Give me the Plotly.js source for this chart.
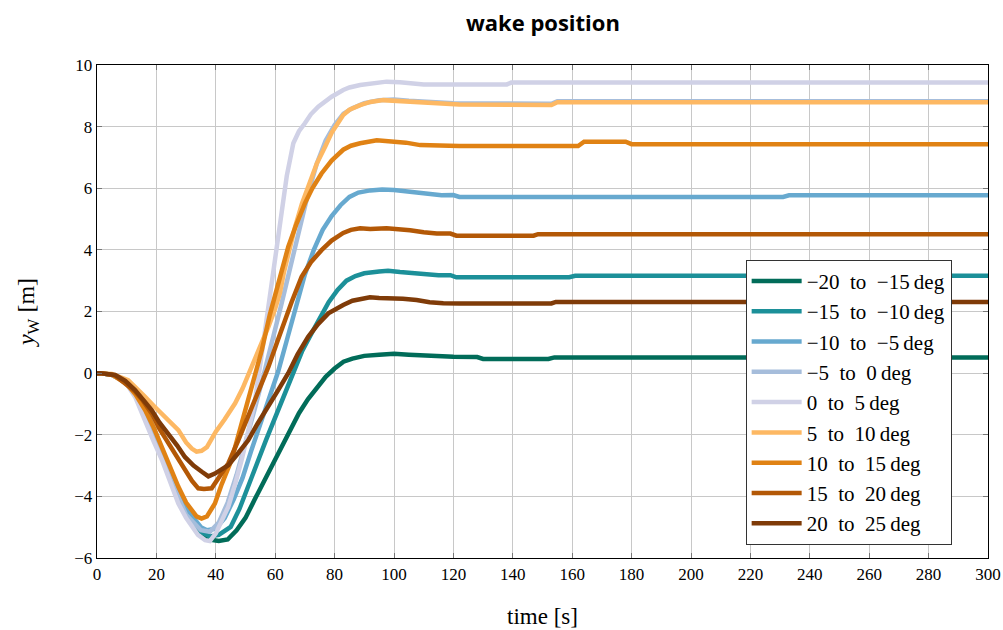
<!DOCTYPE html>
<html>
<head>
<meta charset="utf-8">
<script src="https://cdn.plot.ly/plotly-3.0.1.min.js"></script>
<style>html,body{margin:0;padding:0;background:#fff;}#chart{width:1003px;height:630px;}</style>
</head>
<body>
<div id="chart"></div>
<script>
// Series labels and colours
const labels = ["−20\u2002to\u2002−15\u2009deg","−15\u2002to\u2002−10\u2009deg","−10\u2002to\u2002−5\u2009deg","−5\u2002to\u20020\u2009deg","0\u2002to\u20025\u2009deg","5\u2002to\u200210\u2009deg","10\u2002to\u200215\u2009deg","15\u2002to\u200220\u2009deg","20\u2002to\u200225\u2009deg"];
const colors = ["#016c59","#1c9099","#67a9cf","#a6bddb","#d0d1e6","#fdb863","#e08214","#b35806","#7f3b08"];

// -20 to -15 deg
const t_m20 = [0,1,5,10,15,20,25,30,35,38,41,44,47,50,53,56,59,62,65,68,71,74,77,80,83,86,90,95,100,105,110,115,120,128,130,152,154,300];
const y_m20 = [0,0,-0.05,-0.3,-0.95,-2.1,-3.4,-4.5,-5.2,-5.4,-5.45,-5.4,-5.1,-4.7,-4.12,-3.55,-3.0,-2.4,-1.85,-1.3,-0.85,-0.5,-0.12,0.15,0.37,0.47,0.56,0.6,0.63,0.6,0.57,0.55,0.53,0.52,0.46,0.46,0.51,0.51];

// -15 to -10 deg
const t_m15 = [0,1,5,10,15,20,25,30,35,38,41,45,48,51,54,57,60,63,66,69,72,75,78,81,84,87,90,95,98,102,106,110,115,119,121,159,161,300];
const y_m15 = [0,0,-0.05,-0.3,-0.95,-2.1,-3.4,-4.5,-5.15,-5.3,-5.25,-4.99,-4.4,-3.69,-2.9,-2.15,-1.45,-0.7,0,0.7,1.25,1.8,2.3,2.7,3.0,3.15,3.24,3.3,3.32,3.28,3.24,3.2,3.18,3.18,3.11,3.11,3.16,3.16];

// -10 to -5 deg
const t_m10 = [0,1,5,10,15,20,25,30,35,37,40,43,46,49,52,55,58,61,64,67,70,73,76,79,82,85,88,92,96,100,104,108,112,116,120,122,231,233,300];
const y_m10 = [0,0,-0.05,-0.3,-0.9,-2.0,-3.3,-4.4,-5.0,-5.1,-5.05,-4.7,-4.1,-3.4,-2.5,-1.65,-0.75,0.05,1.1,2.1,3.2,4.0,4.65,5.1,5.45,5.72,5.86,5.93,5.96,5.94,5.9,5.86,5.8,5.77,5.78,5.72,5.72,5.77,5.77];

// -5 to 0 deg
const t_m5 = [0,1,5,10,15,20,25,30,35,38,41,44,47,50,53,56,59,62,65,68,71,74,77,80,83,86,90,95,100,105,110,120,153,155,300];
const y_m5 = [0,0,-0.05,-0.3,-1.0,-2.2,-3.5,-4.6,-5.1,-5.15,-4.85,-4.2,-3.3,-2.3,-1.2,-0.1,1.0,2.2,3.4,4.6,5.8,6.8,7.55,8.05,8.42,8.6,8.76,8.86,8.88,8.84,8.81,8.76,8.74,8.82,8.82];

// 0 to 5 deg
const t_p0 = [0,1,5,10,13,16,19,22,25,27.4,30,32,34,36.4,38,40,42,44.2,46.5,48.7,51,53.2,55,56.6,58,59.5,61.1,62.5,63.9,66.1,68,70,72,74.5,77,79,82.9,85,88.6,92,97.5,102,106,110,138,139.5,300];
const y_p0 = [0,0,-0.05,-0.35,-0.8,-1.53,-2.2,-2.85,-3.6,-4.23,-4.7,-5.0,-5.25,-5.42,-5.45,-5.2,-4.8,-4.34,-3.6,-2.82,-1.85,-0.88,0.3,1.4,2.4,3.3,4.5,5.6,6.4,7.46,7.85,8.11,8.4,8.65,8.85,8.97,9.19,9.27,9.35,9.4,9.46,9.44,9.4,9.37,9.37,9.43,9.43];

// 5 to 10 deg
const t_p5 = [0,1,5,10.5,13,16.2,19,21.8,24.5,27.4,30,31.9,33.5,35.2,37,38.6,40,43,46.5,49,52.1,55,57.7,60,61.6,63,64.4,66.7,69,71.1,74,76.8,79,82.9,85,88.6,92,96.4,100,105.4,110,115.5,122,153,155,300];
const y_p5 = [0,0,-0.03,-0.23,-0.45,-0.77,-1.05,-1.31,-1.55,-1.85,-2.25,-2.45,-2.55,-2.52,-2.4,-2.1,-1.9,-1.5,-0.98,-0.5,0.2,0.85,1.5,2.1,2.6,3.3,3.85,4.75,5.5,6.05,6.8,7.35,7.8,8.38,8.55,8.7,8.8,8.86,8.84,8.81,8.78,8.76,8.72,8.70,8.79,8.79];

// 10 to 15 deg
const t_p10 = [0,1,5,10,13,16.2,19,21.8,24.5,27.4,30,31.9,33.5,35.2,37,39.7,42,45.3,48,50.9,53,55.5,58.2,60,62,64.4,67,70,72.5,75.6,79,82.9,85.5,88.6,94.2,99.8,104,108.8,115,122,162,164,178,180,300];
const y_p10 = [0,0,-0.05,-0.35,-0.7,-1.2,-1.75,-2.39,-3.05,-3.69,-4.2,-4.45,-4.65,-4.72,-4.65,-4.23,-3.6,-2.82,-1.85,-0.88,-0.15,0.75,1.9,2.55,3.3,4.1,4.8,5.51,6.0,6.48,6.9,7.25,7.38,7.46,7.56,7.51,7.48,7.40,7.38,7.37,7.37,7.51,7.51,7.43,7.43];

// 15 to 20 deg
const t_p15 = [0,1,6,12.8,15.5,18.4,21,24,27,29.6,32,34.1,36,38.6,39.7,42,44.2,47.5,50.9,54,57.7,61,63.9,65.5,68.9,72,75.6,79,82.9,85.5,88.6,92,97.5,101,105.4,110,114.4,119,121,147,148.5,300];
const y_p15 = [0,0,-0.07,-0.6,-0.9,-1.31,-1.8,-2.28,-2.75,-3.15,-3.5,-3.74,-3.76,-3.74,-3.58,-3.25,-2.93,-2.2,-1.42,-0.65,0.2,1.1,1.9,2.3,3.13,3.6,3.99,4.3,4.55,4.65,4.70,4.68,4.70,4.68,4.64,4.57,4.53,4.53,4.46,4.46,4.51,4.51];

// 20 to 25 deg
const t_p20 = [0,1,6.1,9.5,12.8,15.5,18.4,21,24,27,29.6,32.5,35.3,37.5,39.7,42,44.2,47.5,50.9,54,57.7,61,64.4,67.5,71.1,74.5,77.9,80.5,82.9,86,91.9,95,99.8,103,107.6,112,116.6,122,153,154.5,300];
const y_p20 = [0,0,-0.06,-0.25,-0.55,-0.85,-1.2,-1.6,-1.96,-2.35,-2.72,-3.0,-3.2,-3.35,-3.26,-3.12,-2.99,-2.6,-2.18,-1.65,-1.09,-0.55,0,0.6,1.18,1.6,1.94,2.1,2.21,2.35,2.46,2.44,2.43,2.41,2.37,2.3,2.27,2.26,2.26,2.31,2.31];

const xs = [t_m20,t_m15,t_m10,t_m5,t_p0,t_p5,t_p10,t_p15,t_p20];
const ys = [y_m20,y_m15,y_m10,y_m5,y_p0,y_p5,y_p10,y_p15,y_p20];

const serif = "Liberation Serif, DejaVu Serif, serif";
const traces = labels.map((name,i)=>({
  type:"scatter", mode:"lines", name:name,
  x: xs[i], y: ys[i],
  line:{color:colors[i], width:4.5}
}));

const layout = {
  width:1003, height:630,
  margin:{l:97, r:15, t:65, b:72},
  paper_bgcolor:"#fff", plot_bgcolor:"#fff",
  title:{text:"<b>wake position</b>", x:0.5413, xanchor:"center", y:0.963, yanchor:"middle",
    font:{family:"Open Sans, sans-serif", size:22, color:"#000"}},
  xaxis:{range:[0,300], dtick:20, tick0:0, showgrid:true, gridcolor:"#c8c8c8", gridwidth:1,
    zeroline:false, showline:true, linecolor:"#000", linewidth:1.3, mirror:"ticks",
    ticks:"inside", ticklen:5, tickcolor:"#777",
    tickfont:{family:serif, size:17, color:"#000"},
    title:{text:"time [s]", font:{family:serif, size:23, color:"#000"}, standoff:25}},
  yaxis:{range:[-6,10], dtick:2, tick0:0, showgrid:true, gridcolor:"#c8c8c8", gridwidth:1,
    zeroline:false, showline:true, linecolor:"#000", linewidth:1.3, mirror:"ticks",
    ticks:"inside", ticklen:5, tickcolor:"#777",
    tickfont:{family:serif, size:17, color:"#000"},
    title:{text:"<i>y</i><sub>W</sub> [m]", font:{family:serif, size:24, color:"#000"}, standoff:32}},
  legend:{x:0.728, xanchor:"left", y:0.605, yanchor:"top",
    bgcolor:"#fff", bordercolor:"#333", borderwidth:1, itemwidth:50,
    font:{family:serif, size:21, color:"#000"}, tracegroupgap:0},
  showlegend:true
};

Plotly.newPlot("chart", traces, layout, {displayModeBar:false, staticPlot:true});
</script>
</body>
</html>
